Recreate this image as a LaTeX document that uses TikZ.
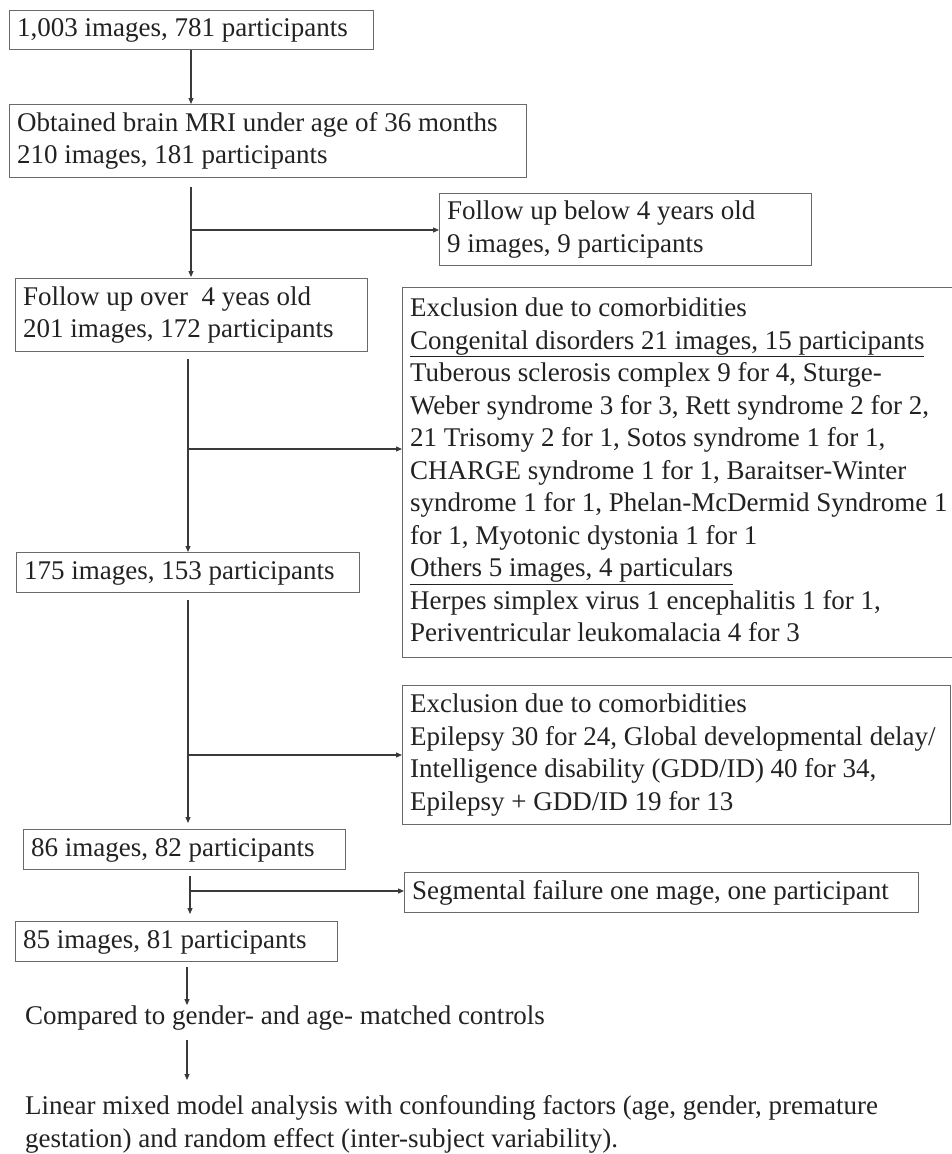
\documentclass[tikz,border=0pt]{standalone}
\usepackage{fontspec}
\setmainfont{Liberation Serif}
\usetikzlibrary{arrows.meta}
\definecolor{txt}{HTML}{222222}
\definecolor{boxc}{HTML}{6A6A6A}
\definecolor{linec}{HTML}{3A3A3A}
\newcommand\blines[2]{\makebox[#1][l]{\begin{tabular}{@{}l@{}}#2\end{tabular}}}
\begin{document}
\begin{tikzpicture}[x=1pt,y=-1pt,
  every node/.style={text=txt},
  box/.style={draw=boxc, line width=1.1pt, anchor=north west, inner xsep=7.5pt, inner ysep=0pt,
    font=\fontsize{27}{32.5}\selectfont},
  plain/.style={inner sep=0pt, align=left, font=\fontsize{27}{33}\selectfont},
  arr/.style={draw=linec, line width=1.1pt, -{Triangle[length=6pt,width=5pt]}}]
\fill[white] (0,0) rectangle (951,1154);
\useasboundingbox (0,0) rectangle (951,1154);

\node[box, minimum width=364pt, minimum height=39pt] (b1) at (9,10) {\blines{349pt}{1,003 images, 781 participants}};
\node[box, minimum width=517pt, minimum height=73pt] (b2) at (9,104) {\blines{502pt}{Obtained brain MRI under age of 36 months\\210 images, 181 participants}};
\node[box, minimum width=372pt, minimum height=72pt] (b3) at (439,193) {\blines{357pt}{Follow up below 4 years old\\9 images, 9 participants}};
\node[box, minimum width=352pt, minimum height=73pt] (b4) at (15,278) {\blines{337pt}{Follow up over\ \ 4 yeas old\\201 images, 172 participants}};
\node[box, minimum width=560pt, minimum height=370pt] (b5) at (402,287) {\blines{545pt}{Exclusion due to comorbidities\\
\underline{Congenital disorders 21 images, 15 participants}\\
Tuberous sclerosis complex 9 for 4, Sturge-\\
Weber syndrome 3 for 3, Rett syndrome 2 for 2,\\
21 Trisomy 2 for 1, Sotos syndrome 1 for 1,\\
CHARGE syndrome 1 for 1, Baraitser-Winter\\
syndrome 1 for 1, Phelan-McDermid Syndrome 1\\
for 1, Myotonic dystonia 1 for 1\\
\underline{Others 5 images, 4 particulars}\\
Herpes simplex virus 1 encephalitis 1 for 1,\\
Periventricular leukomalacia 4 for 3}};
\node[box, minimum width=343pt, minimum height=40pt] (b6) at (16,552) {\blines{328pt}{175 images, 153 participants}};
\node[box, minimum width=548pt, minimum height=139pt] (b7) at (402,685) {\blines{533pt}{Exclusion due to comorbidities\\
Epilepsy 30 for 24, Global developmental delay/\\
Intelligence disability (GDD/ID) 40 for 34,\\
Epilepsy + GDD/ID 19 for 13}};
\node[box, minimum width=322pt, minimum height=40pt] (b8) at (23,829) {\blines{307pt}{86 images, 82 participants}};
\node[box, minimum width=514pt, minimum height=40pt] (b9) at (404,872) {\blines{499pt}{Segmental failure one mage, one participant}};
\node[box, minimum width=322pt, minimum height=40pt] (b10) at (15,921) {\blines{307pt}{85 images, 81 participants}};
\node[plain, anchor=base west] (t1) at (25,1024) {Compared to gender- and age- matched controls};
\node[plain, anchor=north west] (t2) at (25,1095) {Linear mixed model analysis with confounding factors (age, gender, premature\\gestation) and random effect (inter-subject variability).};

\coordinate (xa) at (191,0);
\coordinate (xb) at (188,0);
\coordinate (xc) at (190,0);
\coordinate (xd) at (187,0);
\coordinate (j1) at (191,230);
\coordinate (j2) at (188,449);
\coordinate (j3) at (188,755);
\coordinate (j4) at (190,891);

\draw[arr] (b1.south -| xa) -- (b2.north -| xa);
\draw[arr, shorten <=9pt, shorten >=1pt] (b2.south -| xa) -- (b4.north -| xa);
\draw[arr] (j1) -- (j1 -| b3.west);
\draw[arr, shorten <=7pt] (b4.south -| xb) -- (b6.north -| xb);
\draw[arr] (j2) -- (j2 -| b5.west);
\draw[arr, shorten <=7pt, shorten >=6pt] (b6.south -| xb) -- (b8.north -| xb);
\draw[arr] (j3) -- (j3 -| b7.west);
\draw[arr, shorten <=6pt, shorten >=7pt] (b8.south -| xc) -- (b10.north -| xc);
\draw[arr] (j4) -- (j4 -| b9.west);
\draw[arr, shorten <=5pt] (b10.south -| xd) -- (t1.north -| xd);
\draw[arr, shorten <=10pt, shorten >=15pt] (t1.south -| xd) -- (t2.north -| xd);
\end{tikzpicture}
\end{document}
